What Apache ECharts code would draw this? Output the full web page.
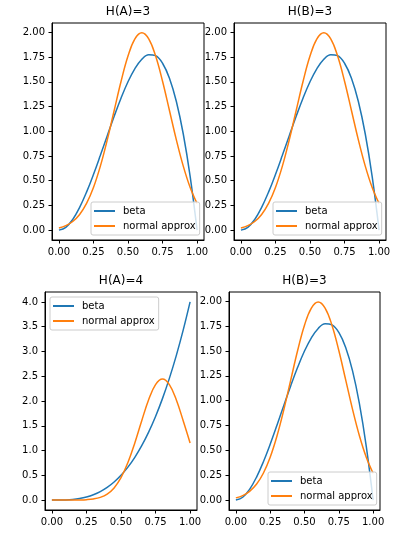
<!DOCTYPE html>
<html>
<head>
<meta charset="utf-8">
<script src="https://cdn.jsdelivr.net/npm/echarts@6/dist/echarts.min.js"></script>
<style>
html,body{margin:0;padding:0;background:#fff;}
#c{width:403px;height:539px;}
</style>
</head>
<body>
<div id="c"></div>
<script>
// Data
const xs = [0, 0.05, 0.1, 0.15, 0.2, 0.25, 0.3, 0.35, 0.4, 0.45, 0.5, 0.55, 0.6, 0.65, 0.7, 0.75, 0.8, 0.85, 0.9, 0.95, 1.0];
const betaH3 = [0, 0.0285, 0.108, 0.2295, 0.384, 0.5625, 0.756, 0.9555, 1.152, 1.3365, 1.5, 1.6335, 1.728, 1.7745, 1.764, 1.6875, 1.536, 1.3005, 0.972, 0.5415, 0];
const normalH3 = [0.0222, 0.0455, 0.0876, 0.1587, 0.2700, 0.4314, 0.6476, 0.9132, 1.2099, 1.5057, 1.7603, 1.9333, 1.9947, 1.9333, 1.7603, 1.5057, 1.2099, 0.9132, 0.6476, 0.4314, 0.2700];
const betaH4 = [0, 0.0005, 0.004, 0.0135, 0.032, 0.0625, 0.108, 0.1715, 0.256, 0.3645, 0.5, 0.6655, 0.864, 1.0985, 1.372, 1.6875, 2.048, 2.4565, 2.916, 3.4295, 4.0];
const normalH4 = [0.0000, 0.0001, 0.0003, 0.0009, 0.0029, 0.0084, 0.0225, 0.0548, 0.1216, 0.2457, 0.4519, 0.7568, 1.1540, 1.6022, 2.0253, 2.3311, 2.4430, 2.3311, 2.0253, 1.6022, 1.1540];
const xTicks = [0, 0.25, 0.5, 0.75, 1.0];
const yTicksH3 = [0, 0.25, 0.5, 0.75, 1.0, 1.25, 1.5, 1.75, 2.0];
const yTicksH4 = [0, 0.5, 1.0, 1.5, 2.0, 2.5, 3.0, 3.5, 4.0];
const titles = ['H(A)=3', 'H(B)=3', 'H(A)=4', 'H(B)=3'];
const seriesNames = ['beta', 'normal approx'];

const FONT = 'DejaVu Sans';
const BLUE = '#1f77b4', ORANGE = '#ff7f0e';
const pair = (ys) => xs.map((x, i) => [x, ys[i]]);

const panels = [
  {grid: {left: 52, top: 23, width: 152, height: 217}, beta: betaH3, normal: normalH3, yTicks: yTicksH3, ymin: -0.0997, ymax: 2.0944, dec: 2, legend: {left: 91, top: 202}, titleX: 128, titleY: 6},
  {grid: {left: 234, top: 23, width: 152, height: 217}, beta: betaH3, normal: normalH3, yTicks: yTicksH3, ymin: -0.0997, ymax: 2.0944, dec: 2, legend: {left: 273, top: 202}, titleX: 310, titleY: 6},
  {grid: {left: 45, top: 292, width: 152, height: 218}, beta: betaH4, normal: normalH4, yTicks: yTicksH4, ymin: -0.2, ymax: 4.2, dec: 1, legend: {left: 50, top: 297}, titleX: 121, titleY: 275},
  {grid: {left: 229, top: 292, width: 151, height: 218}, beta: betaH3, normal: normalH3, yTicks: yTicksH3, ymin: -0.0997, ymax: 2.0944, dec: 2, legend: {left: 268, top: 472}, titleX: 304.5, titleY: 275}
];

const option = {
  animation: false,
  backgroundColor: '#fff',
  title: [], grid: [], xAxis: [], yAxis: [], series: [], legend: []
};

panels.forEach((p, i) => {
  option.title.push({
    text: titles[i], left: p.titleX, top: p.titleY, padding: 0, textAlign: 'center',
    textStyle: {fontFamily: FONT, fontSize: 12, fontWeight: 'normal', color: '#000'}
  });
  option.grid.push(Object.assign({show: true, borderColor: '#000', borderWidth: 1, backgroundColor: 'transparent'}, p.grid));
  option.xAxis.push({
    type: 'value', gridIndex: i, min: -0.05, max: 1.05,
    splitLine: {show: false},
    axisLine: {show: true, onZero: false, lineStyle: {color: '#000', width: 1}},
    axisTick: {show: true, inside: false, length: 3.5, customValues: xTicks, lineStyle: {color: '#000'}},
    axisLabel: {customValues: xTicks, margin: 7, fontFamily: FONT, fontSize: 10, color: '#000', formatter: v => v.toFixed(2)}
  });
  option.yAxis.push({
    type: 'value', gridIndex: i, min: p.ymin, max: p.ymax,
    splitLine: {show: false},
    axisLine: {show: true, onZero: false, lineStyle: {color: '#000', width: 1}},
    axisTick: {show: true, inside: false, length: 3.5, customValues: p.yTicks, lineStyle: {color: '#000'}},
    axisLabel: {customValues: p.yTicks, margin: 7, fontFamily: FONT, fontSize: 10, color: '#000', formatter: v => v.toFixed(p.dec)}
  });
  option.series.push({
    name: seriesNames[0], type: 'line', xAxisIndex: i, yAxisIndex: i,
    data: pair(p.beta), symbol: 'none', smooth: 0.4, color: BLUE,
    lineStyle: {color: BLUE, width: 1.5}
  });
  option.series.push({
    name: seriesNames[1], type: 'line', xAxisIndex: i, yAxisIndex: i,
    data: pair(p.normal), symbol: 'none', smooth: 0.4, color: ORANGE,
    lineStyle: {color: ORANGE, width: 1.5}
  });
  option.legend.push({
    data: seriesNames, orient: 'vertical', left: p.legend.left, top: p.legend.top,
    padding: [3, 4, 3, 3], itemGap: 3, itemWidth: 21, itemHeight: 2, icon: 'rect',
    backgroundColor: 'rgba(255,255,255,0.8)', borderColor: '#cccccc', borderWidth: 1, borderRadius: 2,
    textStyle: {fontFamily: FONT, fontSize: 10, color: '#000', lineHeight: 12, padding: [0, 0, 0, 3]}
  });
});

const chart = echarts.init(document.getElementById('c'), null, {renderer: 'canvas'});
chart.setOption(option);
</script>
</body>
</html>
